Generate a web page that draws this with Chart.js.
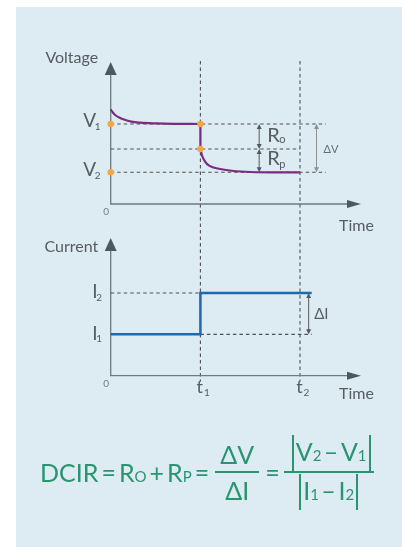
<!DOCTYPE html>
<html>
<head>
<meta charset="utf-8">
<title>DCIR</title>
<script src="https://cdn.jsdelivr.net/npm/chart.js@4"></script>
<style>
  html, body { margin: 0; padding: 0; background: #fff; }
  #wrap { position: relative; width: 406px; height: 547px; overflow: hidden; }
  #panel { position: absolute; left: 16px; top: 7px; width: 386px; height: 540px; background: #ddecf2; }
  canvas { position: absolute; left: 0; top: 0; }
  #formula {
    position: absolute; left: 40px; top: 432px; height: 80px;
    display: flex; align-items: center; white-space: nowrap;
    color: #2a9470; font-family: Lato, "Open Sans", sans-serif; font-size: 25px;
  }
  #formula small { font-size: 15px; }
  #formula .op { margin: 0 3px; }
  #formula .frac { display: inline-flex; flex-direction: column; align-items: center; margin: 0 3px; }
  #formula .num { border-bottom: 2px solid #2a9470; padding: 0 5px; line-height: 34px; text-align: center; }
  #formula .den { line-height: 34px; text-align: center; }
  #formula .wide { margin-left: 1px; }
  #formula .wide .num { padding: 0 3px 0 8px; }
  #formula .abs { display: inline-block; border-left: 2px solid #2a9470; border-right: 2px solid #2a9470; padding: 0 2px; line-height: 32px; }
  #formula .minus { margin: 0 2.5px; }
</style>
</head>
<body>
<div id="wrap">
  <div id="panel"></div>
  <canvas id="currentChart" width="406" height="547"></canvas>
  <canvas id="voltageChart" width="406" height="547"></canvas>
  <div id="formula">
    <span>DCIR</span><span class="op">=</span><span>R<small>O</small></span><span class="op">+</span><span>R<small>P</small></span><span class="op">=</span>
    <span class="frac"><span class="num">ΔV</span><span class="den">ΔI</span></span>
    <span class="op">=</span>
    <span class="frac wide"><span class="num"><span class="abs">V<small>2</small><span class="minus">–</span>V<small>1</small></span></span><span class="den"><span class="abs">I<small>1</small><span class="minus">–</span>I<small>2</small></span></span></span>
  </div>
</div>
<script>
// time marks t1, t2 and the end of the time axis
var timeMarks = [1.0, 2.11];
var timeMarkNames = ['1', '2'];
var timeMax = 2.79;

// voltage levels: V1, V1 after the ohmic drop, V2
var voltageLevels = [8.0, 5.5, 3.17];
var voltageMax = 14.2;

// current levels: I1, I2
var currentLevels = [2.0, 4.0];
var currentMax = 6.66;

// voltage trace before the pulse, the instant drop, and the relaxation after
var voltageBeforeTime = [0, 0.02, 0.05, 0.1, 0.14, 0.23, 0.33, 0.51, 0.7, 1.0];
var voltageBeforeValue = [9.47, 9.2, 8.9, 8.62, 8.47, 8.23, 8.13, 8.06, 8.02, 8.0];
var voltageStepTime = [1.0, 1.0];
var voltageStepValue = [8.0, 5.5];
var voltageAfterTime = [1.0, 1.016, 1.052, 1.097, 1.22, 1.37, 1.56, 1.8, 2.11];
var voltageAfterValue = [5.5, 4.9, 4.23, 3.83, 3.5, 3.3, 3.2, 3.17, 3.17];

// current step
var currentTime = [0, 1.0, 1.0, 2.24];
var currentValue = [2.0, 2.0, 4.0, 4.0];

var FONT = 'Lato, "Open Sans", sans-serif';
var AXIS = '#6d7b80', ARROW = '#4a5960', GUIDE = '#505050', TEXT = '#565c5f';

function pts(xs, ys) {
  return xs.map(function (x, i) { return { x: x, y: ys[i] }; });
}

function head(ctx, x, y, dir, len, half, color) {
  ctx.save();
  ctx.fillStyle = color;
  ctx.beginPath();
  ctx.moveTo(x, y);
  if (dir === 'up') { ctx.lineTo(x - half, y + len); ctx.lineTo(x + half, y + len); }
  else if (dir === 'down') { ctx.lineTo(x - half, y - len); ctx.lineTo(x + half, y - len); }
  else { ctx.lineTo(x - len, y - half); ctx.lineTo(x - len, y + half); }
  ctx.closePath();
  ctx.fill();
  ctx.restore();
}

function axes(chart) {
  var ctx = chart.ctx, a = chart.chartArea;
  ctx.save();
  ctx.strokeStyle = AXIS;
  ctx.lineWidth = 1.3;
  ctx.beginPath();
  ctx.moveTo(a.left, a.top + 10);
  ctx.lineTo(a.left, a.bottom);
  ctx.lineTo(a.right - 10, a.bottom);
  ctx.stroke();
  ctx.restore();
  head(ctx, a.left, a.top, 'up', 13, 6, ARROW);
  head(ctx, a.right, a.bottom, 'right', 14, 4, ARROW);
}

function dashed(ctx, x1, y1, x2, y2) {
  ctx.save();
  ctx.strokeStyle = GUIDE;
  ctx.lineWidth = 1.1;
  ctx.setLineDash([3.5, 3]);
  ctx.beginPath();
  ctx.moveTo(x1, y1);
  ctx.lineTo(x2, y2);
  ctx.stroke();
  ctx.restore();
}

// double headed vertical arrow
function span(ctx, x, y1, y2, color) {
  ctx.save();
  ctx.strokeStyle = color;
  ctx.lineWidth = 1;
  ctx.beginPath();
  ctx.moveTo(x, y1 + 4);
  ctx.lineTo(x, y2 - 4);
  ctx.stroke();
  ctx.restore();
  head(ctx, x, y1, 'up', 5, 2.5, color);
  head(ctx, x, y2, 'down', 5, 2.5, color);
}

function text(ctx, s, x, y, size, color, align) {
  ctx.save();
  ctx.font = size + 'px ' + FONT;
  ctx.fillStyle = color || TEXT;
  ctx.textAlign = align || 'left';
  ctx.textBaseline = 'alphabetic';
  ctx.fillText(s, x, y);
  ctx.restore();
}

function axisNames(chart, name, nameY, timeY) {
  var ctx = chart.ctx, a = chart.chartArea;
  text(ctx, name, a.left - 12.5, nameY, 16, TEXT, 'right');
  text(ctx, 'Time', a.right - 22, a.bottom + timeY, 16, TEXT);
  ctx.save();
  ctx.font = '10px ' + FONT;
  ctx.fillStyle = '#7a7f82';
  ctx.textAlign = 'center';
  ctx.textBaseline = 'middle';
  ctx.fillText('0', a.left - 4.5, a.bottom + 8);
  ctx.restore();
}

var voltageGuides = {
  id: 'voltageGuides',
  beforeDatasetsDraw: function (chart) {
    var ctx = chart.ctx, a = chart.chartArea, x = chart.scales.x, y = chart.scales.y;
    var t1 = x.getPixelForValue(timeMarks[0]), t2 = x.getPixelForValue(timeMarks[1]);
    var v1 = y.getPixelForValue(voltageLevels[0]);
    var vm = y.getPixelForValue(voltageLevels[1]);
    var v2 = y.getPixelForValue(voltageLevels[2]);
    axes(chart);
    dashed(ctx, a.left, v1, t2 + 26, v1);
    dashed(ctx, a.left, vm, t2, vm);
    dashed(ctx, a.left, v2, t2 + 26, v2);
    var ax = t1 + (t2 - t1) * 0.59;
    span(ctx, ax, v1, vm, '#55595b');
    span(ctx, ax, vm, v2, '#55595b');
    span(ctx, t2 + 16.5, v1, v2, '#8d9295');
  },
  afterDatasetsDraw: function (chart) {
    var ctx = chart.ctx, a = chart.chartArea, x = chart.scales.x, y = chart.scales.y;
    var t1 = x.getPixelForValue(timeMarks[0]), t2 = x.getPixelForValue(timeMarks[1]);
    var v1 = y.getPixelForValue(voltageLevels[0]);
    var vm = y.getPixelForValue(voltageLevels[1]);
    var v2 = y.getPixelForValue(voltageLevels[2]);
    [[a.left, v1], [t1, v1], [t1, vm], [a.left, v2]].forEach(function (p) {
      ctx.save();
      ctx.fillStyle = '#f4a640';
      ctx.beginPath();
      ctx.arc(p[0], p[1], 3.2, 0, Math.PI * 2);
      ctx.fill();
      ctx.restore();
    });
    text(ctx, 'V', a.left - 27.4, v1 + 3.3, 19);
    text(ctx, '1', a.left - 16, v1 + 6, 10);
    text(ctx, 'V', a.left - 27.4, v2 + 4, 19);
    text(ctx, '2', a.left - 16, v2 + 6.8, 10);
    var ax = t1 + (t2 - t1) * 0.59;
    text(ctx, 'R', ax + 8, vm - 7.3, 20);
    text(ctx, 'o', ax + 20, vm - 6, 11);
    text(ctx, 'R', ax + 8, v2 - 7.3, 20);
    text(ctx, 'p', ax + 20, v2 - 4.5, 11);
    text(ctx, 'ΔV', t2 + 23.5, vm + 3.8, 11, '#666b6e');
    axisNames(chart, 'Voltage', a.top + 0.7, 26.5);
  }
};

var voltageChart = new Chart(document.getElementById('voltageChart'), {
  type: 'line',
  data: {
    datasets: [
      { data: pts(voltageBeforeTime, voltageBeforeValue), cubicInterpolationMode: 'monotone' },
      { data: pts(voltageStepTime, voltageStepValue), tension: 0 },
      { data: pts(voltageAfterTime, voltageAfterValue), cubicInterpolationMode: 'monotone' }
    ].map(function (d) {
      d.borderColor = '#7a2c80';
      d.borderWidth = 2.2;
      d.pointRadius = 0;
      d.fill = false;
      d.clip = false;
      return d;
    })
  },
  options: {
    responsive: false,
    animation: false,
    layout: { padding: { left: 110.7, right: 45, top: 62, bottom: 343 } },
    scales: {
      x: { type: 'linear', min: 0, max: timeMax, display: false },
      y: { type: 'linear', min: 0, max: voltageMax, display: false }
    },
    plugins: { legend: { display: false }, tooltip: { enabled: false } }
  },
  plugins: [voltageGuides]
});

var currentGuides = {
  id: 'currentGuides',
  beforeDatasetsDraw: function (chart) {
    var ctx = chart.ctx, a = chart.chartArea, x = chart.scales.x, y = chart.scales.y;
    var top = voltageChart.chartArea.top - 1;
    timeMarks.forEach(function (t) {
      var px = x.getPixelForValue(t);
      dashed(ctx, px, top, px, a.bottom + 6);
    });
    axes(chart);
    var t1 = x.getPixelForValue(timeMarks[0]);
    var end = x.getPixelForValue(currentTime[currentTime.length - 1]);
    var i1 = y.getPixelForValue(currentLevels[0]);
    var i2 = y.getPixelForValue(currentLevels[1]);
    dashed(ctx, a.left, i2, t1, i2);
    dashed(ctx, t1, i1, end, i1);
    span(ctx, end - 3, i2, i1, '#55595b');
  },
  afterDatasetsDraw: function (chart) {
    var ctx = chart.ctx, a = chart.chartArea, x = chart.scales.x, y = chart.scales.y;
    var end = x.getPixelForValue(currentTime[currentTime.length - 1]);
    var i1 = y.getPixelForValue(currentLevels[0]);
    var i2 = y.getPixelForValue(currentLevels[1]);
    text(ctx, 'I', a.left - 18.5, i1 + 5.7, 19);
    text(ctx, '1', a.left - 14.5, i1 + 7.6, 10);
    text(ctx, 'I', a.left - 18.5, i2 + 5.3, 19);
    text(ctx, '2', a.left - 14.5, i2 + 8, 10);
    text(ctx, 'ΔI', end + 2.5, (i1 + i2) / 2 + 5.5, 15);
    timeMarks.forEach(function (t, i) {
      var px = x.getPixelForValue(t);
      text(ctx, 't', px - 3.8, a.bottom + 17.6, 18);
      text(ctx, timeMarkNames[i], px + 3.5, a.bottom + 20.5, 10);
    });
    axisNames(chart, 'Current', a.top + 13.7, 23.3);
  }
};

var currentChart = new Chart(document.getElementById('currentChart'), {
  type: 'line',
  data: {
    datasets: [{
      data: pts(currentTime, currentValue),
      borderColor: '#1f69ad',
      borderWidth: 2.5,
      pointRadius: 0,
      tension: 0,
      fill: false,
      clip: false
    }]
  },
  options: {
    responsive: false,
    animation: false,
    layout: { padding: { left: 110.7, right: 45, top: 238, bottom: 171.3 } },
    scales: {
      x: { type: 'linear', min: 0, max: timeMax, display: false },
      y: { type: 'linear', min: 0, max: currentMax, display: false }
    },
    plugins: { legend: { display: false }, tooltip: { enabled: false } }
  },
  plugins: [currentGuides]
});
</script>
</body>
</html>
